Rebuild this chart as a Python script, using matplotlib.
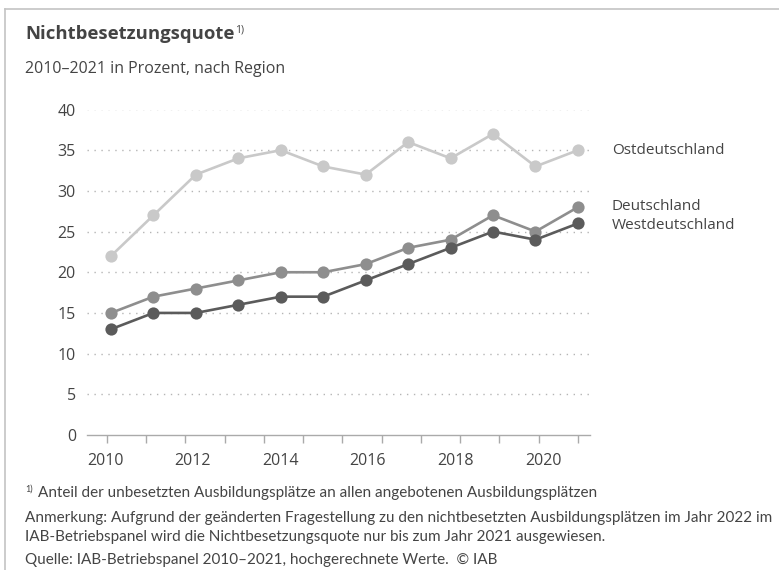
import matplotlib
matplotlib.use("Agg")
import matplotlib.pyplot as plt
from matplotlib.lines import Line2D
import numpy as np

# Nichtbesetzungsquote in Prozent, 2010-2021
jahre = [2010, 2011, 2012, 2013, 2014, 2015, 2016, 2017, 2018, 2019, 2020, 2021]
ost = [22, 27, 32, 34, 35, 33, 32, 36, 34, 37, 33, 35]
deutschland = [15, 17, 18, 19, 20, 20, 21, 23, 24, 27, 25, 28]
west = [13, 15, 15, 16, 17, 17, 19, 21, 23, 25, 24, 26]

regionen = ["Ostdeutschland", "Deutschland", "Westdeutschland"]
farben = ["#c9c9c9", "#8e8e8e", "#5b5b5b"]
label_y = [35.0, 28.1, 25.8]

x_labels = ["2010", "2012", "2014", "2016", "2018", "2020"]
y_ticks = [0, 5, 10, 15, 20, 25, 30, 35, 40]

FONT = ["Open Sans", "DejaVu Sans"]
NARROW = ["Lato", "DejaVu Sans"]
TXT = "#444444"

plt.rcParams["font.family"] = FONT

fig = plt.figure(figsize=(7.79, 5.70), dpi=100)
W, H = 779, 570

def fx(px):
    return px / W

def fy(py):
    return 1 - py / H

ax = fig.add_axes([fx(87), fy(435), fx(590) - fx(87), fy(109.5) - fy(435)])

serien = [ost, deutschland, west]
for werte, farbe in zip(serien, farben):
    ax.plot(jahre, werte, color=farbe, lw=1.9, marker="o", ms=8.8,
            markeredgewidth=0, clip_on=False, zorder=3)

ax.set_xlim(2009.435, 2021.284)
ax.set_ylim(0, 40)

# dotted grid lines
ax.set_yticks(y_ticks)
ax.set_yticklabels([str(v) for v in y_ticks], fontsize=11.5, color=TXT)
ax.tick_params(axis="y", length=0, pad=8)
for v in y_ticks[1:]:
    ax.axhline(v, color="#b5b5b5", lw=1.0, ls=(0, (1, 4)), zorder=1)

for s in ["top", "right", "left"]:
    ax.spines[s].set_visible(False)
ax.spines["bottom"].set_color("#aaaaaa")
ax.spines["bottom"].set_linewidth(1.0)

ax.set_xticks(np.linspace(2009.86, 2020.18, 6))
ax.set_xticklabels(x_labels, fontsize=11.5, color=TXT)
ax.set_xticks(np.linspace(2009.9, 2021.0, 13), minor=True)
ax.tick_params(axis="x", which="major", length=0, pad=13)
ax.tick_params(axis="x", which="minor", length=6, color="#aaaaaa", width=1)

# labels at the line ends
for name, yv in zip(regionen, label_y):
    ax.text(2021.8, yv, name, fontsize=11, color=TXT, va="center", ha="left",
            clip_on=False)

# title block
titel = fig.text(fx(25), fy(34), "Nichtbesetzungsquote", fontsize=13.3,
                 fontweight="bold", color=TXT, va="center")
fig.canvas.draw()
r = fig.canvas.get_renderer()
bb = titel.get_window_extent(r)
fig.text(bb.x1 / W + 0.001, fy(30), "1)", fontsize=7.5, color=TXT, va="center")
fig.text(fx(25), fy(69), "2010\u20132021 in Prozent, nach Region", fontsize=11.5,
         color=TXT, va="center")

# footnotes, sized so the long line fills the width
fuss = [
    (38, 493, "Anteil der unbesetzten Ausbildungspl\u00e4tze an allen angebotenen Ausbildungspl\u00e4tzen"),
    (25, 518, "Anmerkung: Aufgrund der ge\u00e4nderten Fragestellung zu den nichtbesetzten Ausbildungspl\u00e4tzen im Jahr 2022 im"),
    (25, 537, "IAB-Betriebspanel wird die Nichtbesetzungsquote nur bis zum Jahr 2021 ausgewiesen."),
    (25, 560, "Quelle: IAB-Betriebspanel 2010\u20132021, hochgerechnete Werte.  \u00a9 IAB"),
]
probe = fig.text(0, 0, fuss[1][2], fontsize=10, family=NARROW)
breite = probe.get_window_extent(r).width
probe.remove()
fs = 10 * 748 / breite

fig.text(fx(25), fy(489), "1)", fontsize=6.5, color=TXT, va="center", family=NARROW)
for px, py, s in fuss:
    fig.text(fx(px), fy(py), s, fontsize=fs, color=TXT, va="center", family=NARROW)

# frame lines top and left
fig.add_artist(Line2D([fx(5), 1], [fy(9), fy(9)], color="#c4c4c4", lw=1.2))
fig.add_artist(Line2D([fx(5), fx(5)], [fy(9), 0], color="#c4c4c4", lw=1.2))

fig.savefig("out.png", dpi=100, facecolor="white")
